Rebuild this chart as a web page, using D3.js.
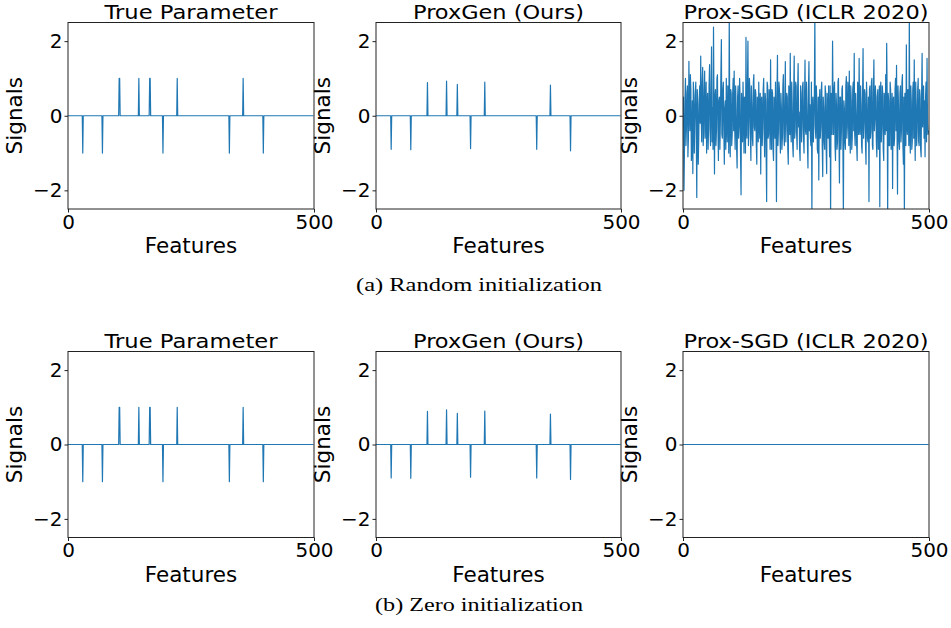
<!DOCTYPE html>
<html><head><meta charset="utf-8">
<script src="https://cdn.jsdelivr.net/npm/d3@7"></script>
<style>html,body{margin:0;padding:0;background:#fff;}svg{display:block;}</style>
</head><body>
<script>
// ---------------- data ----------------
const panelTitles = ["True Parameter", "ProxGen (Ours)", "Prox-SGD (ICLR 2020)"];
const rowCaptions = ["(a) Random initialization", "(b) Zero initialization"];
const xLabel = "Features";
const yLabel = "Signals";
const nFeatures = 500;
const xTicks = [0, 500];
const yTicks = [-2, 0, 2];
const yTickLabels = ["\u22122", "0", "2"];

// sparse true parameter (index, value)
const trueIdx = [30, 70, 104, 105, 144, 166, 167, 193, 222, 328, 356, 397];
const trueVal = [-1, -1, 1, 1, 1, 1, 1, -1, 1, -1, 1, -1];
// ProxGen recovered (index, value)
const proxGenIdx = [31, 71, 105, 144, 166, 193, 222, 328, 356, 397];
const proxGenVal = [-0.90, -0.91, 0.89, 0.93, 0.84, -0.88, 0.90, -0.90, 0.82, -0.94];
// Prox-SGD, random init: noisy estimate, even-numbered features (read approximately)
const proxSgdEven = [
 -0.3,-2.0,0.4,-0.8,0.6,-1.1,1.46,-0.4,0.7,-0.9,
 -1.55,0.5,-0.2,0.9,-2.19,0.3,-0.6,0.8,1.6,-0.7,
 1.3,-0.5,1.2,0.1,-1.0,0.6,-0.3,1.37,-0.8,1.85,
 0.2,2.38,-1.56,0.7,-0.4,1.1,-1.2,0.5,-0.1,2.04,
 -0.6,0.9,-1.3,0.4,1.0,-0.7,0.3,2.7,-1.1,0.6,
 -0.5,1.0,1.2,-0.9,0.2,-1.4,0.8,-0.3,0.5,-2.12,
 0.1,0.9,-1.0,0.4,2.1,-0.6,2.0,-0.2,0.7,-1.2,
 0.3,-0.8,1.1,-0.4,0.6,-1.3,0.2,0.9,-0.6,-1.56,
 0.5,-0.3,1.0,-1.1,0.4,-2.3,0.8,-0.5,0.2,1.5,
 -0.9,0.6,-1.2,0.3,0.9,-2.3,1.62,-0.4,0.7,-1.0,
 0.2,-0.6,1.1,-0.8,1.45,-0.2,0.5,-1.3,0.4,1.67,
 -0.7,0.3,-1.1,1.6,-0.4,0.8,-0.9,1.4,0.1,-1.2,
 0.6,-0.3,0.9,-1.0,1.49,-0.5,0.2,-1.4,1.45,0.3,
 -0.8,-2.7,0.5,-0.2,2.7,-0.6,0.4,-1.0,-1.72,0.7,
 -0.3,0.9,-1.63,0.2,-0.9,0.6,-1.55,0.1,0.8,-1.1,
 -2.7,0.4,2.0,-0.5,0.9,-1.2,0.3,-0.7,1.0,-1.8,
 0.5,-0.4,0.8,-2.7,0.2,-0.9,1.05,-0.3,0.6,1.2,
 -1.0,0.4,-0.6,0.9,1.67,-0.8,0.1,-1.2,0.7,1.54,
 -0.5,0.3,-1.0,1.8,-0.2,0.6,-1.3,0.4,-0.7,-2.3,
 0.8,-0.4,1.0,-0.9,1.5,-0.1,0.5,-1.1,0.7,-0.6,
 -2.44,0.9,-0.3,0.6,-1.2,0.2,1.1,1.94,-2.7,0.4,
 -0.8,0.7,-0.2,-1.95,0.5,-0.6,1.0,1.35,-2.1,0.3,
 -0.9,0.8,-0.4,1.1,-1.3,-2.7,0.6,1.9,-0.5,0.2,
 2.7,-1.0,0.4,-0.7,0.9,1.5,-1.2,0.3,-0.4,1.0,
 -0.8,0.5,-1.1,1.67,0.2,-0.6,-1.1,0.9,1.54,-0.5
];
// Prox-SGD, random init: odd-numbered features (read approximately)
const proxSgdOdd = [
 0.5,-0.9,1.0,-0.3,0.8,-0.6,0.2,1.1,-1.2,0.4,
 0.9,-1.0,0.6,-0.5,0.7,-1.3,0.4,-0.2,0.1,0.9,
 -0.8,0.7,-0.6,0.9,0.3,-0.9,0.8,-0.4,0.6,-0.7,
 -0.9,0.3,0.5,-0.8,1.0,-0.3,0.4,-0.9,1.1,-0.5,
 0.7,-0.4,0.2,-0.9,-0.3,0.8,-1.0,0.1,0.7,-0.8,
 0.6,-0.4,-0.2,0.8,-0.9,0.5,-0.6,1.0,-1.1,0.6,
 -0.7,0.2,0.5,-1.0,-0.4,0.9,-0.8,1.0,-0.5,0.8,
 -0.6,0.9,-0.3,0.7,-0.8,0.5,-0.7,-0.2,0.6,0.4,
 -0.8,0.7,-0.5,0.6,-1.0,0.9,-0.6,0.7,-0.9,-0.3,
 0.7,-0.9,0.5,-0.6,-0.3,0.6,-0.8,0.9,-0.5,0.6,
 -0.9,0.8,-0.5,0.3,-0.7,0.6,-0.9,0.8,-0.5,-0.4,
 0.9,-0.8,0.6,-0.6,0.9,-0.5,0.7,-0.3,-0.9,0.8,
 -0.7,0.8,-0.6,0.4,-0.4,0.9,-0.8,0.7,-0.4,-0.6,
 0.9,0.3,-0.7,0.6,-0.3,0.8,-0.9,0.5,0.3,-0.6,
 0.7,-0.8,0.5,-0.7,0.8,-0.9,0.6,-0.6,-0.4,0.8,
 0.6,-0.5,0.3,0.7,-0.8,0.6,-0.9,0.9,-0.6,0.5,
 -0.9,0.7,-0.8,0.4,-0.7,0.8,-0.6,0.9,-0.8,-0.3,
 0.8,-0.9,0.7,-0.4,-0.5,0.6,-0.8,0.9,-0.5,-0.3,
 0.8,-0.8,0.6,-0.6,0.7,-0.8,0.9,-0.6,0.5,0.7,
 -0.6,0.9,-0.8,0.6,-0.4,0.8,-0.7,0.5,-0.9,0.8,
 0.6,-0.7,0.8,-0.9,0.6,-0.5,-0.4,0.5,0.6,-0.8,
 0.9,-0.9,0.6,0.4,-0.8,0.7,-0.4,-0.3,0.8,-0.7,
 0.6,-0.7,0.9,-0.8,0.5,0.6,-0.8,-0.2,0.7,-0.8,
 -0.4,0.8,-0.9,0.7,-0.6,-0.3,0.9,-0.8,0.7,-0.7,
 0.7,-0.9,0.6,-0.3,0.8,0.4,0.5,-0.7,-0.2,-0.4
];

// ---------------- build series ----------------
function dense(idx, val) {
  const m = new Map(idx.map((k, i) => [k, val[i]]));
  return d3.range(nFeatures).map(i => ({x: i, y: m.has(i) ? m.get(i) : 0}));
}
const trueSeries = dense(trueIdx, trueVal);
const proxGenSeries = dense(proxGenIdx, proxGenVal);
const proxSgdRandSeries = d3.range(nFeatures).map(i => ({
  x: i, y: (i % 2 === 0 ? proxSgdEven : proxSgdOdd)[Math.floor(i / 2)]
}));
const proxSgdZeroSeries = dense([], []);

const rows = [
  [trueSeries, proxGenSeries, proxSgdRandSeries],
  [trueSeries, proxGenSeries, proxSgdZeroSeries]
];

// ---------------- layout ----------------
const W = 951, H = 628;
const colX = [[68, 314], [376, 621], [683, 929]];
const rowY = [[22.5, 209], [351.5, 537.5]];
const captionY = [291, 611];
const captionW = [246, 208];
const titleW = [173, 171, 245];
const color = "#1f77b4";
const font = "DejaVu Sans, sans-serif";

const svg = d3.select("body").append("svg").attr("width", W).attr("height", H);
const defs = svg.append("defs");

rows.forEach((row, r) => {
  row.forEach((series, c) => {
    const [x0, x1] = colX[c], [y0, y1] = rowY[r];
    const x = d3.scaleLinear().domain([0, 500]).range([x0, x1]);
    const y = d3.scaleLinear().domain([-2.5, 2.5]).range([y1, y0]);
    const g = svg.append("g");
    const cid = `clip-${r}-${c}`;
    defs.append("clipPath").attr("id", cid).append("rect")
      .attr("x", x0).attr("y", y0).attr("width", x1 - x0).attr("height", y1 - y0);

    g.append("path").datum(series)
      .attr("clip-path", `url(#${cid})`)
      .attr("fill", "none").attr("stroke", color).attr("stroke-width", 1.2)
      .attr("stroke-linejoin", "round")
      .attr("d", d3.line().x(d => x(d.x)).y(d => y(d.y)));

    // frame
    g.append("rect").attr("x", x0).attr("y", y0).attr("width", x1 - x0).attr("height", y1 - y0)
      .attr("fill", "none").attr("stroke", "#222").attr("stroke-width", 1);

    // y axis
    const ya = g.append("g").attr("transform", `translate(${x0},0)`)
      .call(d3.axisLeft(y).tickValues(yTicks).tickSize(3.5).tickPadding(2)
        .tickFormat((d, i) => yTickLabels[i]));
    ya.select(".domain").remove();
    ya.selectAll(".tick line").attr("stroke", "#222");
    ya.selectAll("text").attr("font-family", font).attr("font-size", 20).attr("fill", "#000");

    // x axis
    const xa = g.append("g").attr("transform", `translate(0,${y1})`)
      .call(d3.axisBottom(x).tickValues(xTicks).tickSize(3.5).tickPadding(2).tickFormat(d3.format("d")));
    xa.select(".domain").remove();
    xa.selectAll(".tick line").attr("stroke", "#222");
    xa.selectAll("text").attr("font-family", font).attr("font-size", 20).attr("fill", "#000");

    // title
    g.append("text").attr("x", (x0 + x1) / 2).attr("y", y0 - 4)
      .attr("text-anchor", "middle").attr("font-family", font).attr("font-size", 20)
      .attr("textLength", titleW[c]).attr("lengthAdjust", "spacingAndGlyphs")
      .text(panelTitles[c]);
    // x label
    g.append("text").attr("x", (x0 + x1) / 2).attr("y", y1 + 44)
      .attr("text-anchor", "middle").attr("font-family", font).attr("font-size", 21.5)
      .text(xLabel);
    // y label
    g.append("text").attr("transform", `translate(${x0 - 46},${(y0 + y1) / 2}) rotate(-90)`)
      .attr("text-anchor", "middle").attr("font-family", font).attr("font-size", 21.5)
      .text(yLabel);
  });
  svg.append("text").attr("x", 479).attr("y", captionY[r])
    .attr("text-anchor", "middle").attr("font-family", "Liberation Serif, Times New Roman, serif")
    .attr("font-size", 19).attr("textLength", captionW[r]).attr("lengthAdjust", "spacingAndGlyphs")
    .text(rowCaptions[r]);
});
</script>
</body></html>
